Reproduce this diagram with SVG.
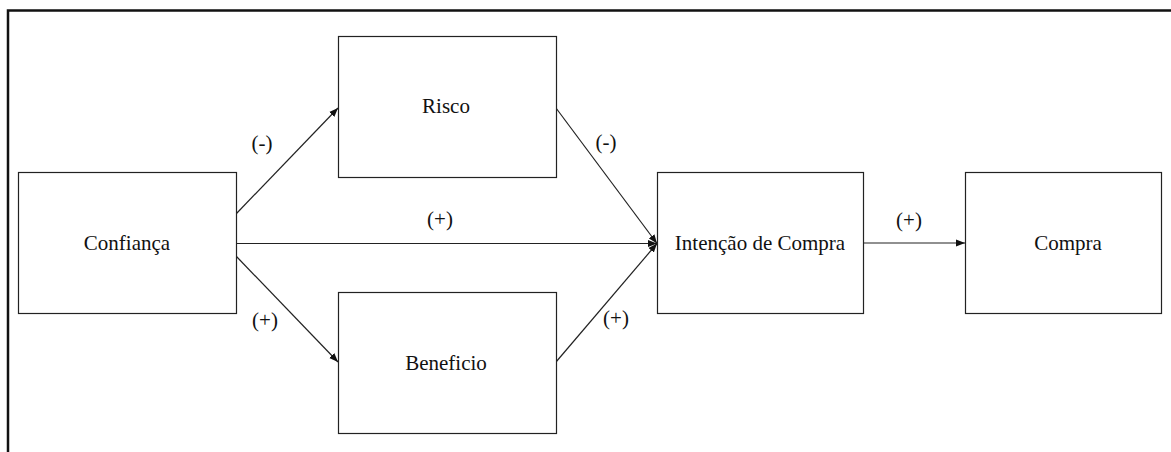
<svg xmlns="http://www.w3.org/2000/svg" width="1171" height="452" viewBox="0 0 1171 452">
  <style>
    .box { fill: #ffffff; stroke: #222222; stroke-width: 1.2; }
    .lbl { font-family: 'Liberation Serif', 'DejaVu Serif', serif; font-size: 21px; fill: #111111; text-anchor: middle; }
    .edge { stroke: #222222; stroke-width: 1.2; fill: none; marker-end: url(#arrow); }
  </style>
  <defs>
    <marker id="arrow" markerUnits="userSpaceOnUse" markerWidth="10" markerHeight="8" refX="9" refY="4" orient="auto">
      <path d="M0,0.5 L9,4 L0,7.5 z" fill="#111111"/>
    </marker>
  </defs>

  <rect width="1171" height="452" fill="#ffffff"/>
  <!-- outer frame -->
  <rect x="8" y="10.5" width="1180" height="460" fill="none" stroke="#111111" stroke-width="2.5"/>

  <g id="connectors">
    <line class="edge" x1="236" y1="214" x2="338" y2="108"/>
    <line class="edge" x1="236" y1="243.5" x2="657" y2="243.5"/>
    <line class="edge" x1="236" y1="256" x2="338" y2="362"/>
    <line class="edge" x1="556" y1="108" x2="657" y2="243.5"/>
    <line class="edge" x1="556" y1="362" x2="657" y2="243.5"/>
    <line class="edge" x1="863" y1="243" x2="965" y2="243"/>
    <text class="lbl" font-family="Liberation Serif, serif" x="262" y="150">(-)</text>
    <text class="lbl" font-family="Liberation Serif, serif" x="440" y="226">(+)</text>
    <text class="lbl" font-family="Liberation Serif, serif" x="606" y="149">(-)</text>
    <text class="lbl" font-family="Liberation Serif, serif" x="265" y="327">(+)</text>
    <text class="lbl" font-family="Liberation Serif, serif" x="616" y="325">(+)</text>
    <text class="lbl" font-family="Liberation Serif, serif" x="909" y="227">(+)</text>
  </g>

  <g id="confianca">
    <rect class="box" x="18.5" y="172.5" width="218" height="141"/>
    <text class="lbl" x="127" y="250">Confiança</text>
  </g>
  <g id="risco">
    <rect class="box" x="338.5" y="36.5" width="218" height="141"/>
    <text class="lbl" x="446" y="113">Risco</text>
  </g>
  <g id="beneficio">
    <rect class="box" x="338.5" y="292.5" width="218" height="141"/>
    <text class="lbl" x="446" y="370">Beneficio</text>
  </g>
  <g id="intencao">
    <rect class="box" x="657.5" y="172.5" width="206" height="141"/>
    <text class="lbl" x="760" y="250">Intenção de Compra</text>
  </g>
  <g id="compra">
    <rect class="box" x="965.5" y="172.5" width="196" height="141"/>
    <text class="lbl" x="1068" y="250">Compra</text>
  </g>
</svg>
